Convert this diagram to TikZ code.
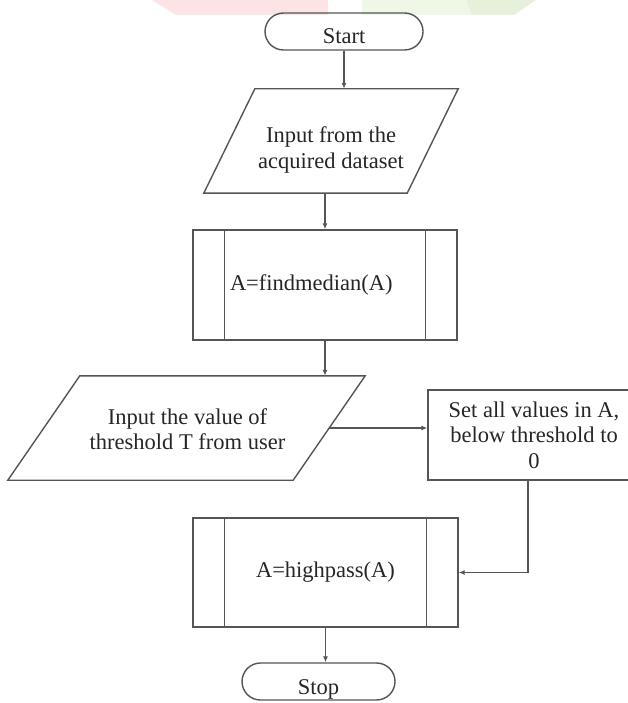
\documentclass[tikz,border=0pt]{standalone}
\usepackage{fontspec}
\setmainfont{Liberation Serif}
\usetikzlibrary{arrows.meta}
\definecolor{ln}{HTML}{555555}
\definecolor{tx}{HTML}{262626}
\definecolor{wmpink}{HTML}{FDE4E4}
\definecolor{wmgreen}{HTML}{EFF8E7}
\definecolor{wmgreendk}{HTML}{E5F1DA}
\begin{document}
\begin{tikzpicture}[x=1pt,y=-1pt,
  every node/.style={font=\fontsize{22.5}{25.5}\selectfont, text=tx},
  lineclr/.style={draw=ln, line width=1.4pt},
  arr/.style={lineclr, -{Latex[length=6pt,width=5pt]}},
  terminal/.style={lineclr, rectangle, rounded corners=18.5pt, minimum height=37pt, inner sep=0pt, text height=25pt, text depth=0pt},
  iobox/.style={rectangle, inner sep=0pt},
  subbox/.style={lineclr, rectangle, inner sep=0pt},
  procbox/.style={lineclr, rectangle, inner sep=0pt, align=center}
]
\useasboundingbox (0,0) rectangle (627,703);
\fill[white] (0,0) rectangle (627,703);
% faint watermark bands
\fill[wmpink] (152,0) -- (328,0) -- (328,15) -- (176,15) -- cycle;
\fill[wmgreen] (362,0) -- (466,0) -- (472,15) -- (362,15) -- cycle;
\fill[wmgreendk] (466,0) -- (536,0) -- (514,15) -- (472,15) -- cycle;

% Start
\node[terminal, minimum width=158pt] (start) at (344,31.5) {Start};

% Input parallelogram 1
\node[iobox, minimum width=254pt, minimum height=104pt] (p1) at (331,141) {};
\draw[lineclr] ([xshift=51pt]p1.north west) -- (p1.north east) -- ([xshift=-51pt]p1.south east) -- (p1.south west) -- cycle;
\node[align=center] (p1t) at ([yshift=-9pt]p1.center) {Input from the\\acquired dataset};

% findmedian subroutine
\node[subbox, minimum width=264pt, minimum height=110pt, text width=190pt, inner xsep=37pt, align=left] (b2) at (325,285) {A=findmedian(A)};
\draw[lineclr] ([xshift=32pt]b2.north west) -- ([xshift=32pt]b2.south west);
\draw[lineclr] ([xshift=-32pt]b2.north east) -- ([xshift=-32pt]b2.south east);

% Input parallelogram 2
\node[iobox, minimum width=357pt, minimum height=104pt] (p2) at (186.5,428) {};
\draw[lineclr] ([xshift=72pt]p2.north west) -- (p2.north east) -- ([xshift=-72pt]p2.south east) -- (p2.south west) -- cycle;
\node[align=center] (p2t) at ([xshift=1pt,yshift=-1pt]p2.center) {Input the value of\\threshold T from user};
\coordinate (p2r) at ([xshift=-36pt]p2.east);

% Set values box
\node[procbox, minimum width=212pt, minimum height=90pt] (set) at (534,435) {Set all values in A,\\below threshold to\\0};
\coordinate (setout) at ([xshift=-6pt]set.south);

% highpass subroutine
\node[subbox, minimum width=265pt, minimum height=109pt] (b3) at (325.5,572.5) {A=highpass(A)};
\draw[lineclr] ([xshift=32pt]b3.north west) -- ([xshift=32pt]b3.south west);
\draw[lineclr] ([xshift=-32pt]b3.north east) -- ([xshift=-32pt]b3.south east);

% Stop
\node[terminal, minimum width=153pt] (stop) at (318.5,681.5) {Stop};

% connectors
\draw[arr] (start.south) -- (start.south |- p1.north);
\draw[arr] (b2.north |- p1.south) -- (b2.north);
\draw[arr] (b2.south) -- (b2.south |- p2.north);
\draw[arr] (p2r) -- (p2r -| set.west);
\draw[arr] (setout) |- (b3.east);
\draw[arr] (b3.south) -- (b3.south |- stop.north);
\end{tikzpicture}
\end{document}
